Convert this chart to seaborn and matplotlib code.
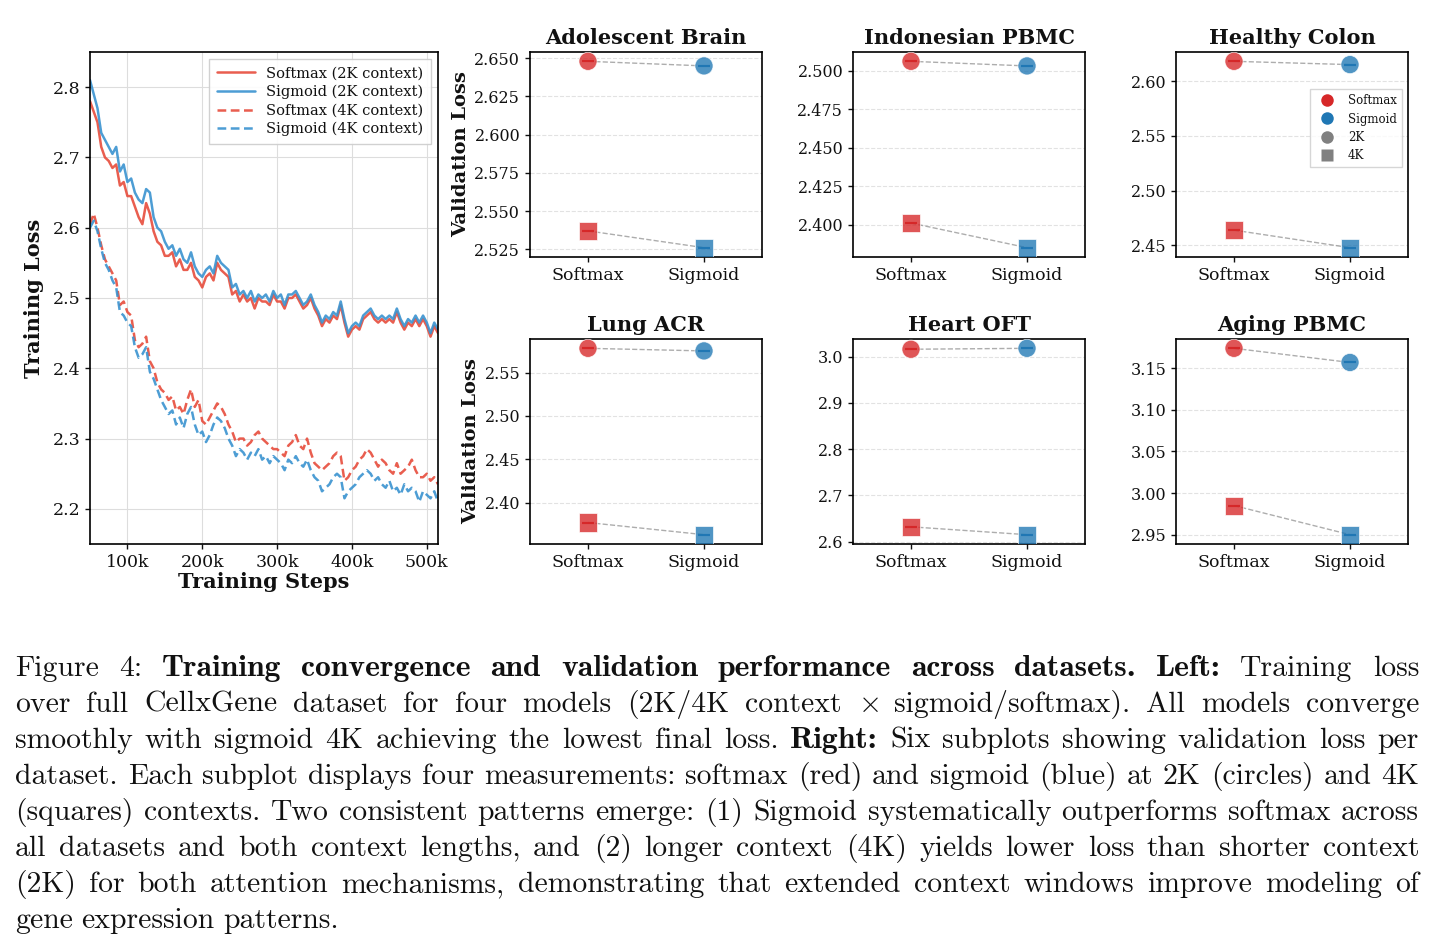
import numpy as np
import pandas as pd
import matplotlib
matplotlib.use('Agg')
import matplotlib.pyplot as plt
from matplotlib.lines import Line2D
from matplotlib.ticker import MultipleLocator, FuncFormatter
import seaborn as sns

# ---- training curves (every 5k steps) ----
steps = list(range(50_000, 515_001, 5_000))

softmax_2k = [2.780, 2.765, 2.750, 2.715, 2.700, 2.695, 2.685, 2.690, 2.660, 2.665,
              2.645, 2.645, 2.630, 2.615, 2.605, 2.635, 2.620, 2.595, 2.580, 2.575,
              2.560, 2.560, 2.565, 2.545, 2.555, 2.540, 2.540, 2.550, 2.530, 2.525,
              2.515, 2.530, 2.535, 2.525, 2.550, 2.540, 2.535, 2.530, 2.505, 2.510,
              2.495, 2.505, 2.495, 2.500, 2.485, 2.500, 2.495, 2.495, 2.490, 2.505,
              2.495, 2.495, 2.485, 2.500, 2.500, 2.505, 2.495, 2.485, 2.490, 2.500,
              2.485, 2.475, 2.460, 2.470, 2.465, 2.475, 2.470, 2.490, 2.465, 2.445,
              2.455, 2.460, 2.455, 2.470, 2.475, 2.480, 2.470, 2.465, 2.470, 2.465,
              2.470, 2.465, 2.480, 2.465, 2.455, 2.465, 2.460, 2.470, 2.460, 2.470,
              2.460, 2.445, 2.460, 2.450]
sigmoid_2k = [2.810, 2.790, 2.770, 2.735, 2.725, 2.715, 2.705, 2.715, 2.680, 2.690,
              2.665, 2.670, 2.650, 2.640, 2.635, 2.655, 2.650, 2.615, 2.600, 2.595,
              2.580, 2.570, 2.575, 2.560, 2.570, 2.555, 2.550, 2.565, 2.545, 2.535,
              2.530, 2.540, 2.545, 2.535, 2.560, 2.550, 2.545, 2.540, 2.515, 2.520,
              2.505, 2.510, 2.500, 2.510, 2.495, 2.505, 2.500, 2.505, 2.495, 2.510,
              2.500, 2.505, 2.490, 2.505, 2.505, 2.510, 2.500, 2.490, 2.495, 2.505,
              2.490, 2.480, 2.465, 2.475, 2.470, 2.480, 2.475, 2.495, 2.470, 2.450,
              2.460, 2.465, 2.460, 2.475, 2.480, 2.485, 2.475, 2.470, 2.475, 2.470,
              2.475, 2.470, 2.485, 2.470, 2.460, 2.470, 2.465, 2.475, 2.465, 2.475,
              2.465, 2.450, 2.465, 2.455]
softmax_4k = [2.605, 2.620, 2.600, 2.575, 2.555, 2.545, 2.535, 2.525, 2.490, 2.495,
              2.480, 2.475, 2.440, 2.430, 2.435, 2.445, 2.410, 2.400, 2.380, 2.370,
              2.365, 2.355, 2.360, 2.340, 2.345, 2.335, 2.355, 2.370, 2.345, 2.355,
              2.325, 2.320, 2.330, 2.340, 2.350, 2.345, 2.335, 2.320, 2.310, 2.295,
              2.300, 2.300, 2.290, 2.295, 2.305, 2.310, 2.300, 2.295, 2.290, 2.285,
              2.285, 2.280, 2.275, 2.290, 2.295, 2.305, 2.290, 2.285, 2.300, 2.280,
              2.265, 2.260, 2.255, 2.260, 2.265, 2.275, 2.280, 2.275, 2.240, 2.245,
              2.255, 2.260, 2.270, 2.275, 2.285, 2.280, 2.270, 2.260, 2.270, 2.265,
              2.255, 2.250, 2.265, 2.250, 2.255, 2.260, 2.270, 2.255, 2.245, 2.245,
              2.250, 2.240, 2.245, 2.235]
sigmoid_4k = [2.600, 2.610, 2.595, 2.570, 2.550, 2.540, 2.525, 2.515, 2.480, 2.475,
              2.465, 2.460, 2.430, 2.415, 2.420, 2.430, 2.395, 2.385, 2.370, 2.355,
              2.345, 2.335, 2.340, 2.320, 2.330, 2.315, 2.335, 2.345, 2.320, 2.305,
              2.310, 2.295, 2.305, 2.320, 2.330, 2.325, 2.315, 2.300, 2.290, 2.275,
              2.285, 2.280, 2.270, 2.280, 2.275, 2.285, 2.270, 2.275, 2.265, 2.275,
              2.270, 2.265, 2.255, 2.270, 2.265, 2.275, 2.265, 2.260, 2.270, 2.255,
              2.245, 2.240, 2.225, 2.230, 2.235, 2.245, 2.250, 2.245, 2.215, 2.225,
              2.230, 2.235, 2.245, 2.250, 2.255, 2.250, 2.240, 2.245, 2.235, 2.230,
              2.240, 2.225, 2.230, 2.220, 2.235, 2.225, 2.230, 2.225, 2.210, 2.225,
              2.220, 2.215, 2.225, 2.210]

# ---- validation loss per dataset ----
datasets = ['Adolescent Brain', 'Indonesian PBMC', 'Healthy Colon',
            'Lung ACR', 'Heart OFT', 'Aging PBMC']
attentions = ['Softmax', 'Sigmoid']
val_2k_softmax = [2.648, 2.506, 2.618, 2.578, 3.016, 3.174]
val_2k_sigmoid = [2.645, 2.503, 2.615, 2.575, 3.018, 3.157]
val_4k_softmax = [2.537, 2.401, 2.464, 2.377, 2.632, 2.985]
val_4k_sigmoid = [2.526, 2.385, 2.448, 2.363, 2.615, 2.950]
tick_steps = [0.025, 0.025, 0.05, 0.05, 0.1, 0.05]

# ---- style ----
sns.set_theme(style='whitegrid')
plt.rcParams.update({
    'font.family': 'serif',
    'font.serif': ['DejaVu Serif'],
    'axes.edgecolor': 'black',
    'axes.linewidth': 1.2,
    'xtick.bottom': True,
    'ytick.left': True,
    'xtick.major.size': 3.5,
    'ytick.major.size': 3.5,
    'xtick.major.width': 1.0,
    'ytick.major.width': 1.0,
    'xtick.color': '#111111',
    'ytick.color': '#111111',
    'text.color': '#111111',
    'axes.labelcolor': '#111111',
    'mathtext.fontset': 'cm',
})

W, H = 1435, 946
fig = plt.figure(figsize=(W / 100, H / 100), dpi=100)


def px_axes(l, t, r, b):
    return fig.add_axes([l / W, 1 - b / H, (r - l) / W, (b - t) / H])


# ---- left: training loss ----
train_df = pd.concat([
    pd.DataFrame({'step': steps, 'loss': softmax_2k, 'model': 'Softmax (2K context)'}),
    pd.DataFrame({'step': steps, 'loss': sigmoid_2k, 'model': 'Sigmoid (2K context)'}),
    pd.DataFrame({'step': steps, 'loss': softmax_4k, 'model': 'Softmax (4K context)'}),
    pd.DataFrame({'step': steps, 'loss': sigmoid_4k, 'model': 'Sigmoid (4K context)'}),
])
line_red, line_blue = '#E74C3C', '#3A93D0'
palette = {'Softmax (2K context)': line_red, 'Sigmoid (2K context)': line_blue,
           'Softmax (4K context)': line_red, 'Sigmoid (4K context)': line_blue}
dashes = {'Softmax (2K context)': '', 'Sigmoid (2K context)': '',
          'Softmax (4K context)': (3.5, 1.8), 'Sigmoid (4K context)': (3.5, 1.8)}

ax = px_axes(90, 52, 438, 544)
sns.lineplot(data=train_df, x='step', y='loss', hue='model', style='model',
             palette=palette, dashes=dashes, linewidth=1.8, alpha=0.9, ax=ax)
ax.set_xlim(50_000, 515_000)
ax.set_ylim(2.15, 2.85)
ax.xaxis.set_major_locator(MultipleLocator(100_000))
ax.xaxis.set_major_formatter(FuncFormatter(lambda v, p: f'{int(v / 1000)}k'))
ax.yaxis.set_major_locator(MultipleLocator(0.1))
ax.tick_params(labelsize=12.5)
ax.grid(True, color='#dddddd', linewidth=0.8)
ax.set_xlabel('Training Steps', fontsize=15, fontweight='bold', labelpad=1)
ax.set_ylabel('Training Loss', fontsize=15, fontweight='bold', labelpad=6)
ax.legend(loc='upper right', fontsize=10.5, frameon=True, framealpha=0.9,
          edgecolor='#cccccc', fancybox=False, handlelength=2.6,
          borderpad=0.5, labelspacing=0.3)
for s in ax.spines.values():
    s.set_color('black')

# ---- right: validation subplots ----
red, blue = '#d62728', '#1f77b4'
lefts = [530, 853, 1176]
rows = [(52, 257), (339, 544)]
for i, name in enumerate(datasets):
    r, c = divmod(i, 3)
    t, b = rows[r]
    a = px_axes(lefts[c], t, lefts[c] + 232, b)
    vdf = pd.DataFrame({
        'attn': attentions * 2,
        'ctx': ['2K', '2K', '4K', '4K'],
        'loss': [val_2k_softmax[i], val_2k_sigmoid[i], val_4k_softmax[i], val_4k_sigmoid[i]],
    })
    sns.scatterplot(data=vdf, x='attn', y='loss', hue='attn', style='ctx',
                    palette={'Softmax': red, 'Sigmoid': blue},
                    markers={'2K': 'o', '4K': 's'}, s=170, alpha=0.78,
                    edgecolor='white', linewidth=0.6, legend=False, zorder=3, ax=a)
    for ctx in ['2K', '4K']:
        sub = vdf[vdf['ctx'] == ctx]
        sns.lineplot(data=sub, x='attn', y='loss', sort=False, color='#999999',
                     linestyle='--', linewidth=1.0, alpha=0.8, zorder=2, ax=a)
        for att, col in [('Softmax', red), ('Sigmoid', blue)]:
            val = sub[sub['attn'] == att]['loss']
            a.errorbar([att], val, yerr=0.0, fmt='none', ecolor=col,
                       capsize=4.5, capthick=1.5, elinewidth=0, alpha=0.85, zorder=4)
    a.set_xlim(-0.5, 1.5)
    a.yaxis.set_major_locator(MultipleLocator(tick_steps[i]))
    a.grid(False, axis='x')
    a.grid(True, axis='y', linestyle='--', color='#e2e2e2', linewidth=0.8)
    a.tick_params(axis='y', labelsize=11.5)
    a.tick_params(axis='x', labelsize=12.5)
    a.set_title(name, fontsize=15, fontweight='bold', pad=6)
    a.set_xlabel('')
    if c == 0:
        a.set_ylabel('Validation Loss', fontsize=14, fontweight='bold', labelpad=3)
    else:
        a.set_ylabel('')
    for s in a.spines.values():
        s.set_color('black')
    if name == 'Healthy Colon':
        handles = [
            Line2D([], [], marker='o', color='none', markerfacecolor=red, markeredgecolor='none', markersize=9, label='Softmax'),
            Line2D([], [], marker='o', color='none', markerfacecolor=blue, markeredgecolor='none', markersize=9, label='Sigmoid'),
            Line2D([], [], marker='o', color='none', markerfacecolor='gray', markeredgecolor='none', markersize=9, label='2K'),
            Line2D([], [], marker='s', color='none', markerfacecolor='gray', markeredgecolor='none', markersize=9, label='4K'),
        ]
        a.legend(handles=handles, loc='upper right', bbox_to_anchor=(0.975, 0.82),
                 borderaxespad=0, fontsize=8.5, frameon=True, edgecolor='#cccccc',
                 fancybox=False, handletextpad=0.8, labelspacing=0.45, borderpad=0.45)

# ---- caption (justified, Computer Modern) ----
cap_lines = [
    [('Figure 4:', 'n'), ('Training convergence and validation performance across datasets.', 'b'),
     ('Left:', 'b'), ('Training loss', 'n')],
    [('over full CellxGene dataset for four models (2K/4K context', 'n'), (r'$\times$', 'm'),
     ('sigmoid/softmax). All models converge', 'n')],
    [('smoothly with sigmoid 4K achieving the lowest final loss.', 'n'), ('Right:', 'b'),
     ('Six subplots showing validation loss per', 'n')],
    [('dataset. Each subplot displays four measurements: softmax (red) and sigmoid (blue) at 2K (circles) and 4K', 'n')],
    [('(squares) contexts. Two consistent patterns emerge: (1) Sigmoid systematically outperforms softmax across', 'n')],
    [('all datasets and both context lengths, and (2) longer context (4K) yields lower loss than shorter context', 'n')],
    [('(2K) for both attention mechanisms, demonstrating that extended context windows improve modeling of', 'n')],
    [('gene expression patterns.', 'n')],
]
fam = {'n': ['cmr10', 'DejaVu Serif'], 'b': ['cmb10', 'DejaVu Serif'], 'm': ['cmr10', 'DejaVu Serif']}
sizes = {'n': 21.4, 'b': 22.8, 'm': 21.4}
x_left, x_right = 15, 1419
renderer = fig.canvas.get_renderer()
for li, segs in enumerate(cap_lines):
    y = 676 + li * 36
    words = []
    for txt, kind in segs:
        for w in txt.split(' '):
            if w:
                words.append((w, kind))
    objs = []
    for w, kind in words:
        t = fig.text(0, 1 - y / H, w, fontsize=sizes[kind], family=fam[kind],
                     va='baseline', ha='left', color='#111111')
        objs.append(t)
    widths = [o.get_window_extent(renderer).width for o in objs]
    last = li == len(cap_lines) - 1
    if last or len(objs) == 1:
        gap = 8.5
    else:
        gap = (x_right - x_left - sum(widths)) / (len(objs) - 1)
    x = x_left
    for o, wd in zip(objs, widths):
        o.set_x(x / W)
        x += wd + gap

fig.savefig('out.png', dpi=100)
